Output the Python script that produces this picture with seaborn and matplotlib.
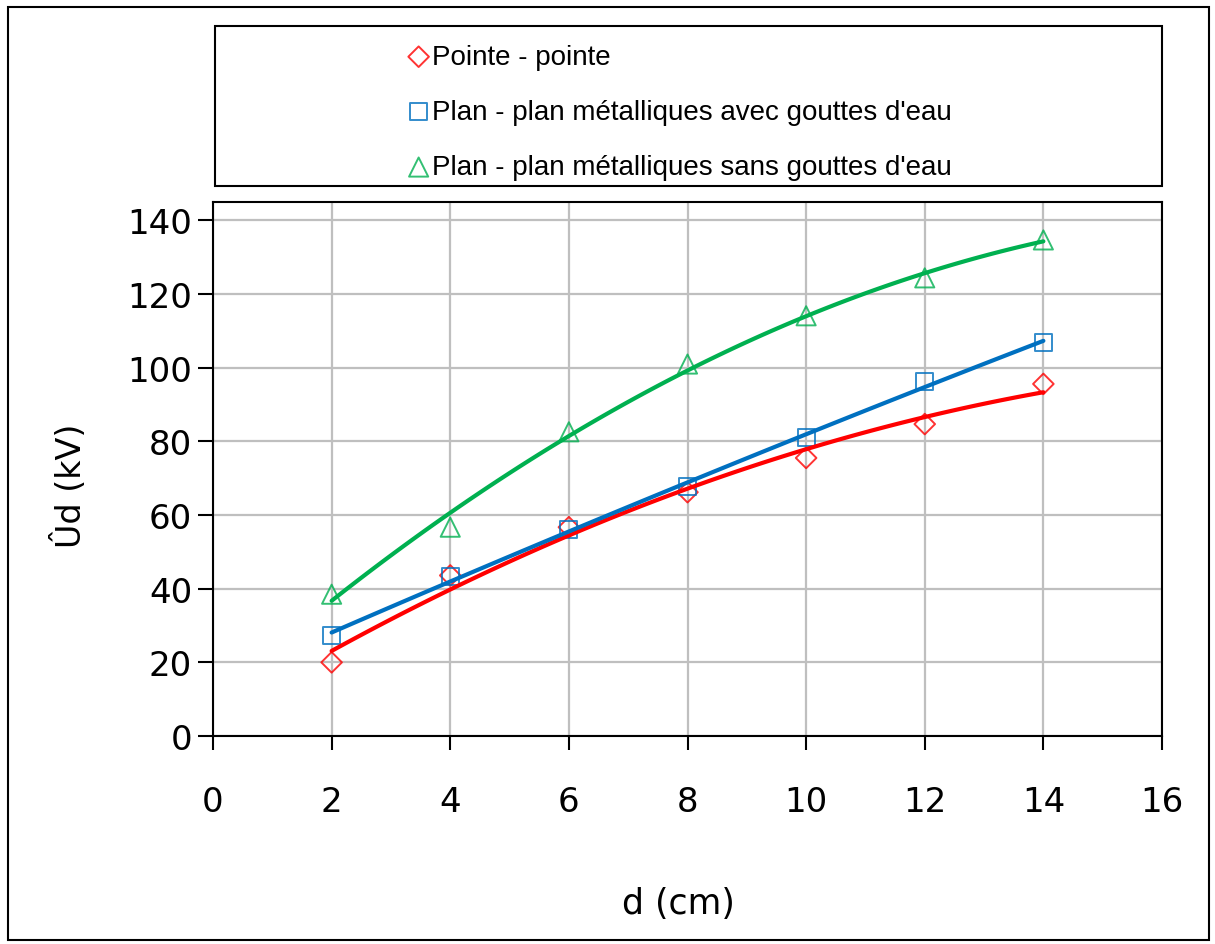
import seaborn as sns
import matplotlib.pyplot as plt
from matplotlib.patches import Rectangle
import numpy as np

# valeurs
d_cm = [2, 4, 6, 8, 10, 12, 14]
pointe = [20.0, 43.6, 56.7, 66.2, 75.5, 84.7, 95.6]
plan_avec = [27.3, 43.3, 56.0, 67.7, 81.0, 96.2, 106.9]
plan_sans = [38.5, 56.7, 82.6, 101.0, 114.1, 124.4, 134.7]

labels = ["Pointe - pointe",
          "Plan - plan métalliques avec gouttes d'eau",
          "Plan - plan métalliques sans gouttes d'eau"]
colors = ['#FF0000', '#0070C0', '#00B050']
markers = ['D', 's', '^']
xticks = list(range(0, 17, 2))
yticks = list(range(0, 141, 20))

sns.set_theme(style='whitegrid')
plt.rcParams['font.family'] = ['DejaVu Sans']

W, H = 1215, 945
fig = plt.figure(figsize=(W / 100, H / 100), dpi=100)
ax = fig.add_axes([213 / W, 1 - 737 / H, 949 / W, 534 / H])

series = [pointe, plan_avec, plan_sans]
sizes = [110, 150, 190]
for vals, lab, c, m, s in zip(series, labels, colors, markers, sizes):
    sns.regplot(x=d_cm, y=vals, order=2, ci=None, ax=ax, color=c, marker=m,
                label=lab,
                scatter_kws={'facecolors': 'none', 'linewidths': 1.4, 's': s, 'zorder': 3},
                line_kws={'lw': 3, 'zorder': 4})

ax.set_xlim(0, 16)
ax.set_ylim(0, 145)
ax.set_xticks(xticks)
ax.set_yticks(yticks)
ax.grid(True, color='#BFBFBF', lw=1.6)
for sp in ax.spines.values():
    sp.set_color('black')
    sp.set_linewidth(1.5)
ax.tick_params(axis='both', labelsize=24.5, colors='black', width=1.5, direction='out')
ax.tick_params(axis='x', length=10, pad=25, bottom=True)
ax.tick_params(axis='y', length=11, pad=4, left=True)

ax.set_xlabel('d (cm)', fontsize=25, color='black')
ax.set_ylabel('Ûd (kV)', fontsize=24, color='black')
ax.xaxis.set_label_coords(0.49, -0.28)
ax.yaxis.set_label_coords(-0.132, 0.47)

# cadre de la legende et cadre exterieur
fig.patches.append(Rectangle((215 / W, 1 - 187 / H), 947 / W, 160 / H,
                             transform=fig.transFigure, fill=False,
                             edgecolor='black', lw=1.5))
fig.patches.append(Rectangle((8 / W, 4 / H), 1201 / W, 933 / H,
                             transform=fig.transFigure, fill=False,
                             edgecolor='black', lw=1.5))

handles, labs = ax.get_legend_handles_labels()
leg = fig.legend(handles, labs, loc='upper left', bbox_to_anchor=(411 / W, 1 - 45 / H),
                 frameon=False, borderpad=0, borderaxespad=0, handlelength=0.55,
                 handletextpad=0.2, labelspacing=1.05,
                 prop={'family': 'Liberation Sans', 'size': 20})
for t in leg.get_texts():
    t.set_color('black')

fig.savefig('out.png', dpi=100)
